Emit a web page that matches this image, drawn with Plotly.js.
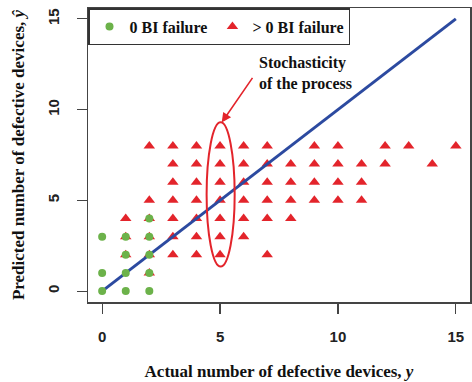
<!DOCTYPE html>
<html>
<head>
<meta charset="utf-8">
<script src="https://cdn.plot.ly/plotly-3.0.1.min.js"></script>
<style>html,body{margin:0;padding:0;background:#fff}#chart{width:472px;height:382px}</style>
</head>
<body>
<div id="chart"></div>
<script>
// Red triangles: > 0 BI failure (actual y, predicted y-hat)
const redX = [1,1,1, 2,2,2,2,2,2, 3,3,3,3,3,3,3, 4,4,4,4,4,4,4, 5,5,5,5,5,5,5, 6,6,6,6,6,6, 7,7,7,7,7,7, 8,8,8,8, 9,9,9,9, 10,10,10,10, 11,11,11, 12,12, 13, 14, 15];
const redY = [4,3,2, 8,5,4,3,2,1, 8,7,6,5,4,3,2, 8,7,6,5,4,3,2, 8,7,6,5,4,3,2, 8,7,6,5,4,3, 8,7,6,5,4,2, 7,6,5,4, 8,7,6,5, 8,7,6,5, 7,6,5, 8,7, 8, 7, 8];
// Green circles: 0 BI failure
const greenX = [0,0,0, 1,1,1,1, 2,2,2,2,2];
const greenY = [0,1,3, 0,1,2,3, 0,1,2,3,4];
// Reference line y-hat = y
const lineX = [0, 15];
const lineY = [0, 15];
const tickVals = [0, 5, 10, 15];
const tickText = ['0', '5', '10', '15'];

const serif = 'Liberation Serif, Times New Roman, serif';
const sans = 'Liberation Sans, Arial, sans-serif';
const RED = '#e3242b', GREEN = '#6cb24a', BLUE = '#2c4aa0';

const traces = [
  {x: redX, y: redY, type: 'scatter', mode: 'markers', name: '> 0 BI failure',
   marker: {symbol: 'triangle-up', size: 10, color: RED}},
  {x: lineX, y: lineY, type: 'scatter', mode: 'lines', showlegend: false,
   line: {color: BLUE, width: 3}},
  {x: greenX, y: greenY, type: 'scatter', mode: 'markers', name: '0 BI failure',
   marker: {symbol: 'circle', size: 8, color: GREEN}}
];

const layout = {
  width: 472, height: 382,
  margin: {l: 88, r: 2, t: 8, b: 80},
  paper_bgcolor: '#fff', plot_bgcolor: '#fff',
  showlegend: true,
  legend: {x: 0, y: 1, xanchor: 'left', yanchor: 'top', orientation: 'h',
    traceorder: 'reversed', bordercolor: '#333', borderwidth: 1.5, bgcolor: '#fff',
    itemwidth: 30,
    font: {family: serif, size: 16, color: '#111', weight: 'bold'}},
  xaxis: {range: [-0.6, 15.6], tickvals: tickVals, ticktext: tickText,
    ticks: 'outside', ticklen: 10, tickcolor: '#444', tickwidth: 1.2,
    ticklabelstandoff: 10,
    showline: true, mirror: true, linecolor: '#444', linewidth: 1.5,
    showgrid: false, zeroline: false,
    tickfont: {family: sans, size: 15, color: '#222', weight: 'bold'},
    title: {text: 'Actual number of defective devices, <i>y</i>', standoff: 21,
      font: {family: serif, size: 17, color: '#111', weight: 'bold'}}},
  yaxis: {range: [-0.6, 15.6], tickvals: tickVals, ticktext: tickText,
    ticks: 'outside', ticklen: 10, tickcolor: '#444', tickwidth: 1.2,
    ticklabelstandoff: 12, tickangle: -90,
    showline: true, mirror: true, linecolor: '#444', linewidth: 1.5,
    showgrid: false, zeroline: false,
    tickfont: {family: sans, size: 15, color: '#222', weight: 'bold'},
    title: {text: 'Predicted number of defective devices, <i>ŷ</i>', standoff: 15,
      font: {family: serif, size: 17, color: '#111', weight: 'bold'}}},
  shapes: [
    {type: 'circle', xref: 'x', yref: 'y', x0: 4.43, x1: 5.62, y0: 1.35, y1: 9.3,
     line: {color: RED, width: 2}}
  ],
  annotations: [
    {x: 5.07, y: 9.29, ax: 6.42, ay: 11.83, xref: 'x', yref: 'y', axref: 'x', ayref: 'y',
     text: '', showarrow: true, arrowhead: 2, arrowsize: 1.2, arrowwidth: 1.6, arrowcolor: RED},
    {x: 6.55, y: 12.0, xref: 'x', yref: 'y', xanchor: 'left', yanchor: 'middle', align: 'left',
     showarrow: false, text: 'Stochasticity<br>of the process',
     font: {family: serif, size: 16, color: '#111', weight: 'bold'}}
  ]
};

Plotly.newPlot('chart', traces, layout, {displayModeBar: false, staticPlot: true});
</script>
</body>
</html>
